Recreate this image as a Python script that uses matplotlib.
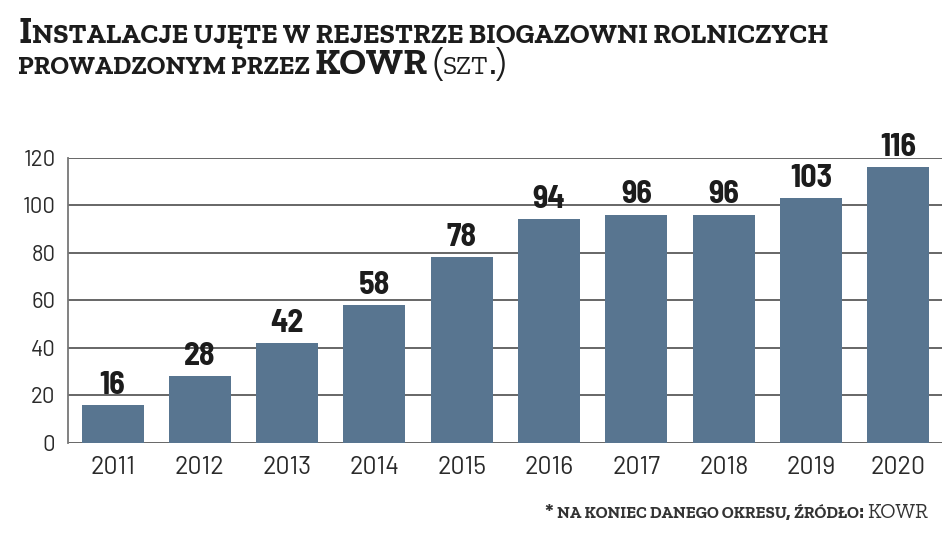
import matplotlib
matplotlib.use('Agg')
import matplotlib.pyplot as plt
from matplotlib import font_manager as fm
from matplotlib.font_manager import FontProperties
from matplotlib.transforms import IdentityTransform

# Dane: instalacje w rejestrze biogazowni rolniczych (szt.)
years = ['2011', '2012', '2013', '2014', '2015', '2016', '2017', '2018', '2019', '2020']
counts = [16, 28, 42, 58, 78, 94, 96, 96, 103, 116]
y_ticks = [0, 20, 40, 60, 80, 100, 120]

title_line1 = [("Instalacje ujęte w rejestrze biogazowni rolniczych", 'bold')]
title_line2 = [("prowadzonym przez KOWR ", 'bold'), ("(szt.)", 'normal')]
footnote = [("* na koniec danego okresu, źródło: ", 'bold'), ("KOWR", 'normal')]

BAR_COLOR = '#587590'
GRID_COLOR = '#5a5a5a'
TEXT_COLOR = '#1c1c1c'

installed = set(f.name for f in fm.fontManager.ttflist)


def pick(names):
    for n in names:
        if n in installed:
            return [n, 'DejaVu Sans']
    return ['DejaVu Sans']


TICK_FONT = pick(['Barlow', 'Barlow Semi Condensed', 'Roboto Condensed',
                  'Liberation Sans Narrow'])
NARROW_BOLD = pick(['Barlow Semi Condensed', 'Roboto Condensed', 'Barlow Condensed',
                    'Open Sans Condensed', 'Liberation Sans Narrow'])
SERIF = pick(['Zilla Slab', 'Roboto Slab', 'Bitter', 'Arvo', 'Noticia Text',
              'Crete Round', 'DejaVu Serif'])


def caps_runs(parts, big, small):
    """Split text into runs: lowercase -> small caps, rest full size"""
    runs = []
    for text, weight in parts:
        for ch in text:
            size = small if (ch.islower() or ch == ' ') else big
            if runs and runs[-1][1] == size and runs[-1][2] == weight:
                runs[-1][0] += ch.upper()
            else:
                runs.append([ch.upper(), size, weight])
    return runs


def run_width(renderer, txt, size, weight):
    prop = FontProperties(family=SERIF, size=size, weight=weight)
    w1 = renderer.get_text_width_height_descent(txt + 'x', prop, False)[0]
    w0 = renderer.get_text_width_height_descent('x', prop, False)[0]
    return w1 - w0


def draw_caps(fig, x, y, parts, big, small, color, target, ha='left'):
    """Fake small caps: runs of text one after another, fitted to target width (px)"""
    renderer = fig.canvas.get_renderer()
    runs = caps_runs(parts, big, small)
    natural = sum(run_width(renderer, t, s, w) for t, s, w in runs)
    k = target / natural
    runs = caps_runs(parts, big * k, small * k)
    widths = [run_width(renderer, t, s, w) for t, s, w in runs]
    total = sum(widths)
    cx = x - total if ha == 'right' else x
    for (txt, size, weight), w in zip(runs, widths):
        fig.text(cx, y, txt, fontsize=size, fontweight=weight, family=SERIF,
                 color=color, transform=IdentityTransform(), va='baseline')
        cx += w
    return total


fig = plt.figure(figsize=(9.48, 5.5), dpi=100)
W, H = 948, 550
ax = fig.add_axes([68 / W, 1 - 443 / H, (942 - 68) / W, (443 - 157.5) / H])

xs = range(len(years))
ax.bar(xs, counts, width=0.71, color=BAR_COLOR, zorder=3)

for i, v in zip(xs, counts):
    ax.annotate(str(v), (i, v), xytext=(0, 8), textcoords='offset points',
                ha='center', va='baseline', fontsize=23, fontweight='bold',
                family=NARROW_BOLD, color=TEXT_COLOR, annotation_clip=False)

ax.set_xlim(-0.51, 9.5)
ax.set_ylim(0, 120)
ax.set_xticks(list(xs))
ax.set_xticklabels(years, family=TICK_FONT, fontsize=18, color='#2a2a2a')
ax.set_yticks(y_ticks)
ax.set_yticklabels([str(t) for t in y_ticks], family=TICK_FONT, fontsize=16, color='#2a2a2a')
ax.tick_params(axis='both', length=0)
ax.tick_params(axis='x', pad=9)
ax.tick_params(axis='y', pad=9)

ax.yaxis.grid(True, color=GRID_COLOR, linewidth=1.3)
ax.set_axisbelow(True)
for side in ['top', 'right', 'bottom']:
    ax.spines[side].set_visible(False)
ax.spines['left'].set_color('#777777')
ax.spines['left'].set_linewidth(1.3)

# Tytul i stopka (kapitaliki) dopasowane do szerokosci oryginalu
fig.canvas.draw()
draw_caps(fig, 18, H - 43, title_line1, 18, 13, TEXT_COLOR, 812)
draw_caps(fig, 18, H - 74, title_line2, 20, 14, TEXT_COLOR, 489)
draw_caps(fig, 928, H - 518, footnote, 10, 8, '#333333', 383, ha='right')

fig.savefig('out.png', dpi=100)
